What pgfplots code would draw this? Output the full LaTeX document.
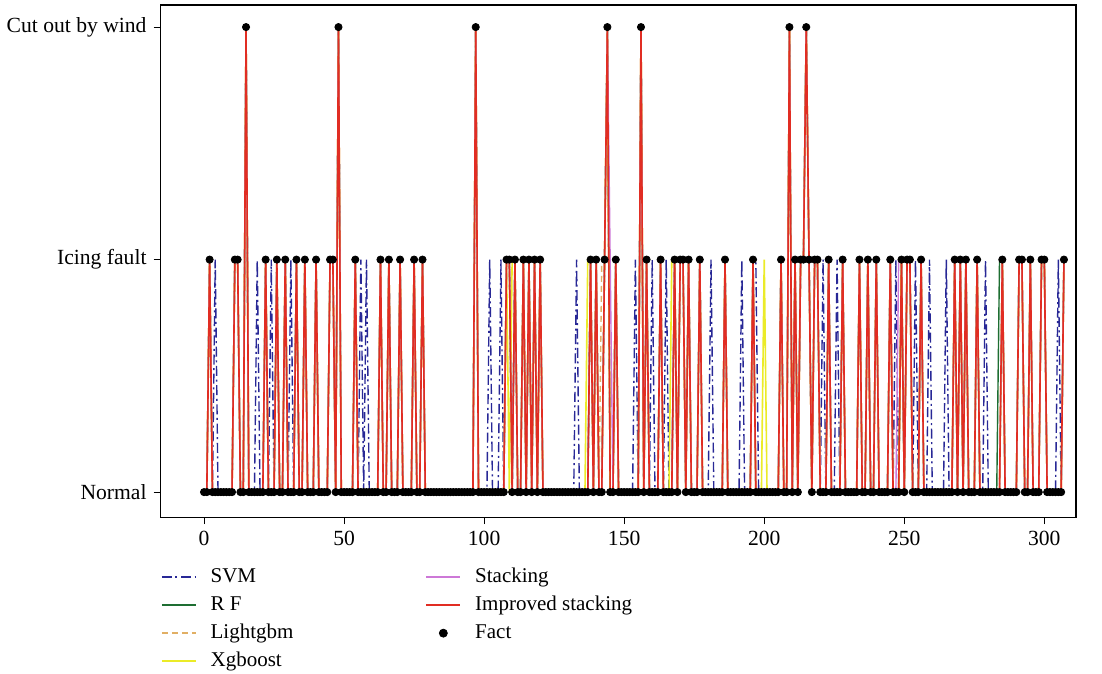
\documentclass[border=0pt]{standalone}
\usepackage{pgfplots}
\pgfplotsset{compat=1.18}
\usepackage{pgfplotstable}
\usepackage{fontspec}
\setmainfont{Liberation Serif}

\definecolor{svmc}{RGB}{40,40,150}
\definecolor{rfc}{RGB}{30,110,50}
\definecolor{lgbc}{RGB}{225,175,100}
\definecolor{xgbc}{RGB}{235,235,40}
\definecolor{stkc}{RGB}{205,120,215}
\definecolor{impc}{RGB}{225,45,35}

\pgfplotstableread{
x fact svm rf lgb xgb stk imp
0 0 0 0 0 0 0 0
1 0 0 0 0 0 0 0
2 1 1 1 1 1 1 1
3 0 0 0 0 0 0 0
4 0 1 0 0 0 0 0
5 0 0 0 0 0 0 0
6 0 0 0 0 0 0 0
7 0 0 0 0 0 0 0
8 0 0 0 0 0 0 0
9 0 0 0 0 0 0 0
10 0 0 0 0 0 0 0
11 1 1 1 1 1 1 1
12 1 1 1 1 1 1 1
13 0 0 0 0 0 0 0
14 0 0 0 0 0 0 0
15 2 2 2 2 2 2 2
16 0 0 0 0 0 0 0
17 0 0 0 0 0 0 0
18 0 0 0 0 0 0 0
19 0 1 0 0 0 0 0
20 0 0 0 0 0 0 0
21 0 0 0 0 0 0 0
22 1 1 1 1 1 1 1
23 0 0 0 0 0 0 0
24 0 1 0 0 0 0 0
25 0 0 0 0 0 0 0
26 1 1 1 1 1 1 1
27 0 0 0 0 0 0 0
28 0 0 0 0 0 0 0
29 1 1 1 1 1 1 1
30 0 0 0 0 0 0 0
31 0 1 0 0 0 0 0
32 0 0 0 0 0 0 0
33 1 1 1 1 1 1 1
34 0 0 0 0 0 0 0
35 0 0 0 0 0 0 0
36 1 1 1 1 1 1 1
37 0 0 0 0 0 0 0
38 0 0 0 0 0 0 0
39 0 0 0 0 0 0 0
40 1 1 1 1 1 1 1
41 0 0 0 0 0 0 0
42 0 0 0 0 0 0 0
43 0 0 0 0 0 0 0
44 0 0 0 0 0 0 0
45 1 1 1 1 1 1 1
46 1 1 1 1 1 1 1
47 0 0 0 0 0 0 0
48 2 2 2 2 2 2 2
49 0 0 0 0 0 0 0
50 0 0 0 0 0 0 0
51 0 0 0 0 0 0 0
52 0 0 0 0 0 0 0
53 0 0 0 0 0 0 0
54 1 1 1 1 1 1 1
55 0 0 0 0 0 0 0
56 0 1 0 0 0 0 0
57 0 0 0 0 0 0 0
58 0 1 0 0 0 0 0
59 0 0 0 0 0 0 0
60 0 0 0 0 0 0 0
61 0 0 0 0 0 0 0
62 0 0 0 0 0 0 0
63 1 1 1 1 1 1 1
64 0 0 0 0 0 0 0
65 0 0 0 0 0 0 0
66 1 1 1 1 1 1 1
67 0 0 0 0 0 0 0
68 0 0 0 0 0 0 0
69 0 0 0 0 0 0 0
70 1 1 1 1 1 1 1
71 0 0 0 0 0 0 0
72 0 0 0 0 0 0 0
73 0 0 0 0 0 0 0
74 0 0 0 0 0 0 0
75 1 1 1 1 1 1 1
76 0 0 0 0 0 0 0
77 0 0 0 0 0 0 0
78 1 1 1 1 1 1 1
79 0 0 0 0 0 0 0
80 0 0 0 0 0 0 0
81 0 0 0 0 0 0 0
82 0 0 0 0 0 0 0
83 0 0 0 0 0 0 0
84 0 0 0 0 0 0 0
85 0 0 0 0 0 0 0
86 0 0 0 0 0 0 0
87 0 0 0 0 0 0 0
88 0 0 0 0 0 0 0
89 0 0 0 0 0 0 0
90 0 0 0 0 0 0 0
91 0 0 0 0 0 0 0
92 0 0 0 0 0 0 0
93 0 0 0 0 0 0 0
94 0 0 0 0 0 0 0
95 0 0 0 0 0 0 0
96 0 0 0 0 0 0 0
97 2 2 2 2 2 2 2
98 0 0 0 0 0 0 0
99 0 0 0 0 0 0 0
100 0 0 0 0 0 0 0
101 0 0 0 0 0 0 0
102 0 1 0 0 0 0 0
103 0 0 0 0 0 0 0
104 0 0 0 0 0 0 0
105 0 0 0 0 0 0 0
106 0 1 0 0 0 0 0
107 0 0 0 0 0 0 0
108 1 1 1 1 1 1 1
109 1 1 1 1 0 1 1
110 0 0 0 0 1 0 0
111 1 1 1 1 1 1 1
112 0 0 0 0 0 0 0
113 0 0 0 0 0 0 0
114 1 1 1 1 1 1 1
115 0 0 0 0 0 0 0
116 1 1 1 1 1 1 1
117 0 0 0 0 0 0 0
118 1 1 1 1 1 1 1
119 0 0 0 0 0 0 0
120 1 1 1 1 1 1 1
121 0 0 0 0 0 0 0
122 0 0 0 0 0 0 0
123 0 0 0 0 0 0 0
124 0 0 0 0 0 0 0
125 0 0 0 0 0 0 0
126 0 0 0 0 0 0 0
127 0 0 0 0 0 0 0
128 0 0 0 0 0 0 0
129 0 0 0 0 0 0 0
130 0 0 0 0 0 0 0
131 0 0 0 0 0 0 0
132 0 0 0 0 0 0 0
133 0 1 0 0 0 0 0
134 0 0 0 0 0 0 0
135 0 0 0 0 0 0 0
136 0 0 0 0 0 0 0
137 0 0 0 0 1 0 0
138 1 1 1 1 1 1 1
139 0 0 0 0 0 0 0
140 1 1 1 1 1 1 1
141 0 0 0 0 0 0 0
142 0 0 0 1 0 0 0
143 1 1 1 1 1 1 1
144 2 2 2 2 2 2 2
145 0 0 0 0 0 1 0
146 0 0 0 0 0 0 0
147 1 1 1 1 1 1 1
148 0 0 0 0 0 0 0
149 0 0 0 0 0 0 0
150 0 0 0 0 0 0 0
151 0 0 0 0 0 0 0
152 0 0 0 0 0 0 0
153 0 0 0 0 0 0 0
154 0 1 0 0 0 0 0
155 0 0 0 0 0 0 0
156 2 2 2 2 2 2 2
157 0 0 0 0 0 0 0
158 1 1 1 1 1 1 1
159 0 0 0 0 0 0 0
160 0 1 0 0 0 0 0
161 0 0 0 0 0 0 0
162 0 0 0 0 0 0 0
163 1 1 1 1 1 1 1
164 0 0 0 0 0 0 0
165 0 1 0 0 0 0 0
166 0 0 0 0 0 0 0
167 0 0 0 0 1 0 0
168 1 1 1 1 1 1 1
169 0 0 0 0 0 0 0
170 1 1 1 1 1 1 1
171 1 1 1 1 1 1 1
172 0 0 0 0 0 0 0
173 1 1 1 1 1 1 1
174 0 0 0 0 0 0 0
175 0 0 0 0 0 0 0
176 0 0 0 0 0 0 0
177 1 1 1 1 1 1 1
178 0 0 0 0 0 0 0
179 0 0 0 0 0 0 0
180 0 0 0 0 0 0 0
181 0 1 0 0 0 0 0
182 0 0 0 0 0 0 0
183 0 0 0 0 0 0 0
184 0 0 0 0 0 0 0
185 0 0 0 0 0 0 0
186 1 1 1 1 1 1 1
187 0 0 0 0 0 0 0
188 0 0 0 0 0 0 0
189 0 0 0 0 0 0 0
190 0 0 0 0 0 0 0
191 0 0 0 0 0 0 0
192 0 1 0 0 0 0 0
193 0 0 0 0 0 0 0
194 0 0 0 0 0 0 0
195 0 0 0 0 0 0 0
196 1 1 1 1 1 1 1
197 0 1 0 0 0 0 0
198 0 0 0 0 0 0 0
199 0 0 0 0 0 0 0
200 0 0 0 0 1 0 0
201 0 0 0 0 0 0 0
202 0 0 0 0 0 0 0
203 0 0 0 0 0 0 0
204 0 0 0 0 0 0 0
205 0 0 0 0 0 0 0
206 1 1 1 1 1 1 1
207 0 0 0 0 0 0 0
208 0 0 0 0 0 0 0
209 2 2 2 2 2 2 2
210 0 0 0 0 0 0 0
211 1 1 1 1 1 1 1
212 0 0 0 0 0 0 0
213 1 1 1 1 1 1 1
214 1 1 1 1 1 1 1
215 2 2 2 2 2 2 2
216 1 1 1 1 1 1 1
217 0 0 0 0 0 0 0
218 1 1 1 1 1 1 1
219 1 1 1 1 1 1 1
220 0 0 0 0 0 0 0
221 0 1 0 0 0 0 0
222 0 0 0 0 0 0 0
223 1 1 1 1 1 1 1
224 0 0 0 0 0 0 0
225 0 0 0 0 0 0 0
226 0 1 0 0 0 0 0
227 0 0 0 0 0 0 0
228 1 1 1 1 1 1 1
229 0 0 0 0 0 0 0
230 0 0 0 0 0 0 0
231 0 0 0 0 0 0 0
232 0 0 0 0 0 0 0
233 0 0 0 0 0 0 0
234 1 1 1 1 1 1 1
235 0 0 0 0 0 0 0
236 0 0 0 0 0 0 0
237 1 1 1 1 1 1 1
238 0 0 0 0 0 0 0
239 0 0 0 0 0 0 0
240 1 1 1 1 1 1 1
241 0 0 0 0 0 0 0
242 0 0 0 0 0 0 0
243 0 0 0 0 0 0 0
244 0 0 0 0 0 0 0
245 1 1 1 1 1 1 1
246 0 0 0 0 0 0 0
247 0 1 0 0 0 0 0
248 0 0 0 0 0 1 0
249 1 1 1 1 1 1 1
250 0 0 0 0 0 0 0
251 1 1 1 1 1 1 1
252 1 1 1 1 1 1 1
253 0 0 0 0 0 0 0
254 0 1 0 0 0 0 0
255 0 0 0 0 0 0 0
256 1 1 1 1 1 1 1
257 0 0 0 0 0 0 0
258 0 0 0 0 0 0 0
259 0 1 0 0 0 0 0
260 0 0 0 0 0 0 0
261 0 0 0 0 0 0 0
262 0 0 0 0 0 0 0
263 0 0 0 0 0 0 0
264 0 0 0 0 0 0 0
265 0 1 0 0 0 0 0
266 0 0 0 0 0 0 0
267 0 0 0 0 0 0 0
268 1 1 1 1 1 1 1
269 0 0 0 0 0 0 0
270 1 1 1 1 1 1 1
271 0 0 0 0 0 0 0
272 1 1 1 1 1 1 1
273 0 0 0 0 0 0 0
274 0 0 0 0 0 0 0
275 0 0 0 0 0 0 0
276 1 1 1 1 1 1 1
277 0 0 0 0 0 0 0
278 0 0 0 0 0 0 0
279 0 1 0 0 0 0 0
280 0 0 0 0 0 0 0
281 0 0 0 0 0 0 0
282 0 0 0 0 0 0 0
283 0 0 0 0 0 0 0
284 0 0 1 0 0 0 0
285 1 1 1 1 1 1 1
286 0 0 0 0 0 0 0
287 0 0 0 0 0 0 0
288 0 0 0 0 0 0 0
289 0 0 0 0 0 0 0
290 0 0 0 0 0 0 0
291 1 1 1 1 1 1 1
292 1 1 1 1 1 1 1
293 0 0 0 0 0 0 0
294 0 0 0 0 0 0 0
295 1 1 1 1 1 1 1
296 0 0 0 0 0 0 0
297 0 0 0 0 0 0 0
298 0 0 0 0 0 0 0
299 1 1 1 1 1 1 1
300 1 1 1 1 1 1 1
301 0 0 0 0 0 0 0
302 0 0 0 0 0 0 0
303 0 0 0 0 0 0 0
304 0 0 0 0 0 0 0
305 0 1 0 0 0 0 0
306 0 0 0 0 0 0 0
307 1 1 1 1 1 1 1
}\data

\begin{document}
\begin{tikzpicture}
\begin{axis}[
  width=457.5pt, height=256pt, scale only axis,
  xmin=-15.5, xmax=311.3, ymin=-0.108, ymax=2.095,
  xtick={0,50,100,150,200,250,300},
  ytick={0,1,2}, yticklabels={Normal,Icing fault,Cut out by wind},
  tick align=outside, xtick pos=bottom, ytick pos=left,
  major tick length=3.5pt,
  tick style={black, line width=0.5pt},
  axis line style={black, line width=0.6pt},
  tick label style={font=\fontsize{10.8}{12}\selectfont},
  /pgf/number format/assume math mode=true,
  legend columns=2,
  legend cell align=left,
  legend style={draw=none, fill=none, inner sep=0pt,
    at={(axis description cs:0,0)}, anchor=north west,
    xshift=0pt, yshift=-23.5pt,
    font=\fontsize{10.5}{12}\selectfont,
    row sep=1.5pt,
    /tikz/every odd column/.append style={column sep=6pt},
    /tikz/every even column/.append style={column sep=65pt},
    nodes={inner sep=1pt, text height=8pt, text depth=2.5pt}},
  legend image code/.code={\draw[#1] plot coordinates {(0pt,0pt)(8.5pt,0pt)(17pt,0pt)};},
]
\addplot[svmc, line width=0.7pt, dash pattern=on 5pt off 1.8pt on 1pt off 1.8pt, forget plot] table[x=x, y=svm] {\data};
\addplot[rfc, line width=0.7pt, forget plot] table[x=x, y=rf] {\data};
\addplot[lgbc, line width=0.7pt, dash pattern=on 3pt off 2pt, forget plot] table[x=x, y=lgb] {\data};
\addplot[xgbc, line width=0.8pt, forget plot] table[x=x, y=xgb] {\data};
\addplot[stkc, line width=0.7pt, forget plot] table[x=x, y=stk] {\data};
\addplot[impc, line width=0.8pt, forget plot] table[x=x, y=imp] {\data};
\addplot[only marks, mark=*, mark size=1.8pt, black, forget plot] table[x=x, y=fact] {\data};

\addlegendimage{svmc, line width=0.7pt, dash pattern=on 5pt off 1.8pt on 1pt off 1.8pt}
\addlegendentry{SVM}
\addlegendimage{stkc, line width=0.8pt}
\addlegendentry{Stacking}
\addlegendimage{rfc, line width=0.7pt}
\addlegendentry{R F}
\addlegendimage{impc, line width=0.8pt}
\addlegendentry{Improved stacking}
\addlegendimage{lgbc, line width=0.7pt, dash pattern=on 3pt off 2pt}
\addlegendentry{Lightgbm}
\addlegendimage{only marks, mark=*, mark size=2pt, black, legend image code/.code={\fill[black] (8.5pt,0pt) circle (2pt);}}
\addlegendentry{Fact}
\addlegendimage{xgbc, line width=0.8pt}
\addlegendentry{Xgboost}
\end{axis}
\path (current axis.north east) ++(13pt,2.5pt);
\path (current axis.north west) ++(0pt,2.5pt);
\end{tikzpicture}
\end{document}
